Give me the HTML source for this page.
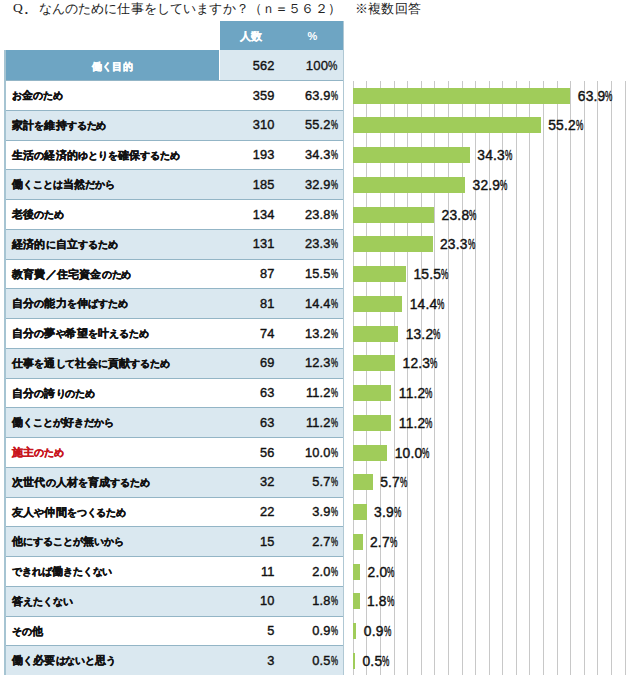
<!DOCTYPE html>
<html lang="ja"><head><meta charset="utf-8">
<style>
html,body{margin:0;padding:0;background:#fff;}
body{width:640px;height:683px;position:relative;overflow:hidden;font-family:"Liberation Sans",sans-serif;}
.a{position:absolute;}
.title{font-family:"Liberation Serif",serif;font-size:13px;color:#222;white-space:nowrap;}
.lab{font-weight:bold;font-size:10px;letter-spacing:-0.1px;-webkit-text-stroke:0.35px currentColor;color:#111;white-space:nowrap;left:12px;}
.num{font-size:12.8px;letter-spacing:0.15px;-webkit-text-stroke:0.4px #111;color:#111;text-align:right;white-space:nowrap;}
.cl{font-size:13.8px;letter-spacing:0.2px;-webkit-text-stroke:0.4px #111;color:#111;white-space:nowrap;}
.g{background:#c8c8c8;width:1px;top:81px;height:594px;}
.bar{background:#a0cc5a;height:16px;}
.pc{display:inline-block;transform:scaleX(0.62);transform-origin:0 50%;margin-right:-4.3px;}
.cl .pc{transform:scaleX(0.6);margin-right:-4.9px;}
.k{font-size:11px;letter-spacing:0.2px;}
</style></head><body>

<div class="a title" style="left:13px;top:0px;font-size:13.5px;-webkit-text-stroke:0.05px #222;">Q</div>
<div class="a title" style="left:24.8px;top:2px;font-weight:bold;">.</div>
<div class="a title" style="left:38.5px;top:0px;letter-spacing:0.15px;">なんのために仕事をしていますか？（ｎ＝５６２）</div>
<div class="a title" style="left:354.5px;top:0px;letter-spacing:0.4px;">※複数回答</div>
<div class="a" style="left:219.5px;top:20.5px;width:124.25px;height:29.75px;background:#6ea5c3;"></div>
<div class="a" style="left:5.8px;top:50.25px;width:213.7px;height:29.75px;background:#6ea5c3;"></div>
<div class="a" style="left:219.5px;top:50.25px;width:124.25px;height:29.75px;background:#dae8f0;"></div>
<div class="a" style="left:219.5px;top:21.5px;width:62px;line-height:29.75px;text-align:center;color:#fff;font-weight:bold;font-size:11px;-webkit-text-stroke:0.2px #fff;">人数</div>
<div class="a" style="left:281.5px;top:22.0px;width:62px;line-height:29.75px;text-align:center;color:#fff;font-weight:bold;font-size:11px;">%</div>
<div class="a" style="left:5.5px;top:51.75px;width:214px;line-height:29.75px;text-align:center;color:#fff;font-weight:bold;font-size:10px;letter-spacing:0.45px;-webkit-text-stroke:0.35px #fff;">働く目的</div>
<div class="a num" style="left:219.5px;top:50.75px;width:55px;line-height:29.75px;">562</div>
<div class="a num" style="left:282.8px;top:50.75px;width:55px;line-height:29.75px;font-size:13.2px;-webkit-text-stroke:0.3px #111;">100<span class="pc" style="transform:scaleX(0.8);margin-right:-2.3px;">%</span></div>
<div class="a" style="left:5.8px;top:80.00px;width:336.8px;height:29.75px;background:#ffffff;border-top:1px solid #93b5c6;box-sizing:border-box;"></div>
<div class="a lab" style="top:81.00px;line-height:29.75px;color:#111;">お<span class="k">金</span>のため</div>
<div class="a num" style="left:219.5px;top:80.50px;width:55px;line-height:29.75px;">359</div>
<div class="a num" style="left:282.8px;top:80.50px;width:55px;line-height:29.75px;">63.9<span class="pc">%</span></div>
<div class="a" style="left:5.8px;top:109.75px;width:336.8px;height:29.75px;background:#dae8f0;border-top:1px solid #93b5c6;box-sizing:border-box;"></div>
<div class="a lab" style="top:110.75px;line-height:29.75px;color:#111;"><span class="k">家計</span>を<span class="k">維持</span>するため</div>
<div class="a num" style="left:219.5px;top:110.25px;width:55px;line-height:29.75px;">310</div>
<div class="a num" style="left:282.8px;top:110.25px;width:55px;line-height:29.75px;">55.2<span class="pc">%</span></div>
<div class="a" style="left:5.8px;top:139.50px;width:336.8px;height:29.75px;background:#ffffff;border-top:1px solid #93b5c6;box-sizing:border-box;"></div>
<div class="a lab" style="top:140.50px;line-height:29.75px;color:#111;"><span class="k">生活</span>の<span class="k">経済的</span>ゆとりを<span class="k">確保</span>するため</div>
<div class="a num" style="left:219.5px;top:140.00px;width:55px;line-height:29.75px;">193</div>
<div class="a num" style="left:282.8px;top:140.00px;width:55px;line-height:29.75px;">34.3<span class="pc">%</span></div>
<div class="a" style="left:5.8px;top:169.25px;width:336.8px;height:29.75px;background:#dae8f0;border-top:1px solid #93b5c6;box-sizing:border-box;"></div>
<div class="a lab" style="top:170.25px;line-height:29.75px;color:#111;"><span class="k">働</span>くことは<span class="k">当然</span>だから</div>
<div class="a num" style="left:219.5px;top:169.75px;width:55px;line-height:29.75px;">185</div>
<div class="a num" style="left:282.8px;top:169.75px;width:55px;line-height:29.75px;">32.9<span class="pc">%</span></div>
<div class="a" style="left:5.8px;top:199.00px;width:336.8px;height:29.75px;background:#ffffff;border-top:1px solid #93b5c6;box-sizing:border-box;"></div>
<div class="a lab" style="top:200.00px;line-height:29.75px;color:#111;"><span class="k">老後</span>のため</div>
<div class="a num" style="left:219.5px;top:199.50px;width:55px;line-height:29.75px;">134</div>
<div class="a num" style="left:282.8px;top:199.50px;width:55px;line-height:29.75px;">23.8<span class="pc">%</span></div>
<div class="a" style="left:5.8px;top:228.75px;width:336.8px;height:29.75px;background:#dae8f0;border-top:1px solid #93b5c6;box-sizing:border-box;"></div>
<div class="a lab" style="top:229.75px;line-height:29.75px;color:#111;"><span class="k">経済的</span>に<span class="k">自立</span>するため</div>
<div class="a num" style="left:219.5px;top:229.25px;width:55px;line-height:29.75px;">131</div>
<div class="a num" style="left:282.8px;top:229.25px;width:55px;line-height:29.75px;">23.3<span class="pc">%</span></div>
<div class="a" style="left:5.8px;top:258.50px;width:336.8px;height:29.75px;background:#ffffff;border-top:1px solid #93b5c6;box-sizing:border-box;"></div>
<div class="a lab" style="top:259.50px;line-height:29.75px;color:#111;"><span class="k">教育費／住宅資金</span>のため</div>
<div class="a num" style="left:219.5px;top:259.00px;width:55px;line-height:29.75px;">87</div>
<div class="a num" style="left:282.8px;top:259.00px;width:55px;line-height:29.75px;">15.5<span class="pc">%</span></div>
<div class="a" style="left:5.8px;top:288.25px;width:336.8px;height:29.75px;background:#dae8f0;border-top:1px solid #93b5c6;box-sizing:border-box;"></div>
<div class="a lab" style="top:289.25px;line-height:29.75px;color:#111;"><span class="k">自分</span>の<span class="k">能力</span>を<span class="k">伸</span>ばすため</div>
<div class="a num" style="left:219.5px;top:288.75px;width:55px;line-height:29.75px;">81</div>
<div class="a num" style="left:282.8px;top:288.75px;width:55px;line-height:29.75px;">14.4<span class="pc">%</span></div>
<div class="a" style="left:5.8px;top:318.00px;width:336.8px;height:29.75px;background:#ffffff;border-top:1px solid #93b5c6;box-sizing:border-box;"></div>
<div class="a lab" style="top:319.00px;line-height:29.75px;color:#111;"><span class="k">自分</span>の<span class="k">夢</span>や<span class="k">希望</span>を<span class="k">叶</span>えるため</div>
<div class="a num" style="left:219.5px;top:318.50px;width:55px;line-height:29.75px;">74</div>
<div class="a num" style="left:282.8px;top:318.50px;width:55px;line-height:29.75px;">13.2<span class="pc">%</span></div>
<div class="a" style="left:5.8px;top:347.75px;width:336.8px;height:29.75px;background:#dae8f0;border-top:1px solid #93b5c6;box-sizing:border-box;"></div>
<div class="a lab" style="top:348.75px;line-height:29.75px;color:#111;"><span class="k">仕事</span>を<span class="k">通</span>して<span class="k">社会</span>に<span class="k">貢献</span>するため</div>
<div class="a num" style="left:219.5px;top:348.25px;width:55px;line-height:29.75px;">69</div>
<div class="a num" style="left:282.8px;top:348.25px;width:55px;line-height:29.75px;">12.3<span class="pc">%</span></div>
<div class="a" style="left:5.8px;top:377.50px;width:336.8px;height:29.75px;background:#ffffff;border-top:1px solid #93b5c6;box-sizing:border-box;"></div>
<div class="a lab" style="top:378.50px;line-height:29.75px;color:#111;"><span class="k">自分</span>の<span class="k">誇</span>りのため</div>
<div class="a num" style="left:219.5px;top:378.00px;width:55px;line-height:29.75px;">63</div>
<div class="a num" style="left:282.8px;top:378.00px;width:55px;line-height:29.75px;">11.2<span class="pc">%</span></div>
<div class="a" style="left:5.8px;top:407.25px;width:336.8px;height:29.75px;background:#dae8f0;border-top:1px solid #93b5c6;box-sizing:border-box;"></div>
<div class="a lab" style="top:408.25px;line-height:29.75px;color:#111;"><span class="k">働</span>くことが<span class="k">好</span>きだから</div>
<div class="a num" style="left:219.5px;top:407.75px;width:55px;line-height:29.75px;">63</div>
<div class="a num" style="left:282.8px;top:407.75px;width:55px;line-height:29.75px;">11.2<span class="pc">%</span></div>
<div class="a" style="left:5.8px;top:437.00px;width:336.8px;height:29.75px;background:#ffffff;border-top:1px solid #93b5c6;box-sizing:border-box;"></div>
<div class="a lab" style="top:438.00px;line-height:29.75px;color:#c8161d;"><span class="k">施主</span>のため</div>
<div class="a num" style="left:219.5px;top:437.50px;width:55px;line-height:29.75px;">56</div>
<div class="a num" style="left:282.8px;top:437.50px;width:55px;line-height:29.75px;">10.0<span class="pc">%</span></div>
<div class="a" style="left:5.8px;top:466.75px;width:336.8px;height:29.75px;background:#dae8f0;border-top:1px solid #93b5c6;box-sizing:border-box;"></div>
<div class="a lab" style="top:467.75px;line-height:29.75px;color:#111;"><span class="k">次世代</span>の<span class="k">人材</span>を<span class="k">育成</span>するため</div>
<div class="a num" style="left:219.5px;top:467.25px;width:55px;line-height:29.75px;">32</div>
<div class="a num" style="left:282.8px;top:467.25px;width:55px;line-height:29.75px;">5.7<span class="pc">%</span></div>
<div class="a" style="left:5.8px;top:496.50px;width:336.8px;height:29.75px;background:#ffffff;border-top:1px solid #93b5c6;box-sizing:border-box;"></div>
<div class="a lab" style="top:497.50px;line-height:29.75px;color:#111;"><span class="k">友人</span>や<span class="k">仲間</span>をつくるため</div>
<div class="a num" style="left:219.5px;top:497.00px;width:55px;line-height:29.75px;">22</div>
<div class="a num" style="left:282.8px;top:497.00px;width:55px;line-height:29.75px;">3.9<span class="pc">%</span></div>
<div class="a" style="left:5.8px;top:526.25px;width:336.8px;height:29.75px;background:#dae8f0;border-top:1px solid #93b5c6;box-sizing:border-box;"></div>
<div class="a lab" style="top:527.25px;line-height:29.75px;color:#111;"><span class="k">他</span>にすることが<span class="k">無</span>いから</div>
<div class="a num" style="left:219.5px;top:526.75px;width:55px;line-height:29.75px;">15</div>
<div class="a num" style="left:282.8px;top:526.75px;width:55px;line-height:29.75px;">2.7<span class="pc">%</span></div>
<div class="a" style="left:5.8px;top:556.00px;width:336.8px;height:29.75px;background:#ffffff;border-top:1px solid #93b5c6;box-sizing:border-box;"></div>
<div class="a lab" style="top:557.00px;line-height:29.75px;color:#111;">できれば<span class="k">働</span>きたくない</div>
<div class="a num" style="left:219.5px;top:556.50px;width:55px;line-height:29.75px;">11</div>
<div class="a num" style="left:282.8px;top:556.50px;width:55px;line-height:29.75px;">2.0<span class="pc">%</span></div>
<div class="a" style="left:5.8px;top:585.75px;width:336.8px;height:29.75px;background:#dae8f0;border-top:1px solid #93b5c6;box-sizing:border-box;"></div>
<div class="a lab" style="top:586.75px;line-height:29.75px;color:#111;"><span class="k">答</span>えたくない</div>
<div class="a num" style="left:219.5px;top:586.25px;width:55px;line-height:29.75px;">10</div>
<div class="a num" style="left:282.8px;top:586.25px;width:55px;line-height:29.75px;">1.8<span class="pc">%</span></div>
<div class="a" style="left:5.8px;top:615.50px;width:336.8px;height:29.75px;background:#ffffff;border-top:1px solid #93b5c6;box-sizing:border-box;"></div>
<div class="a lab" style="top:616.50px;line-height:29.75px;color:#111;">その<span class="k">他</span></div>
<div class="a num" style="left:219.5px;top:616.00px;width:55px;line-height:29.75px;">5</div>
<div class="a num" style="left:282.8px;top:616.00px;width:55px;line-height:29.75px;">0.9<span class="pc">%</span></div>
<div class="a" style="left:5.8px;top:645.25px;width:336.8px;height:29.75px;background:#dae8f0;border-top:1px solid #93b5c6;box-sizing:border-box;"></div>
<div class="a lab" style="top:646.25px;line-height:29.75px;color:#111;"><span class="k">働</span>く<span class="k">必要</span>はないと<span class="k">思</span>う</div>
<div class="a num" style="left:219.5px;top:645.75px;width:55px;line-height:29.75px;">3</div>
<div class="a num" style="left:282.8px;top:645.75px;width:55px;line-height:29.75px;">0.5<span class="pc">%</span></div>
<div class="a" style="left:4.2px;top:50.25px;width:1.6px;height:624.75px;background:#a6c4d2;"></div>
<div class="a" style="left:342.6px;top:20.5px;width:1.4px;height:654.5px;background:#b0c8d4;"></div>
<div class="a g" style="left:352.90px;"></div>
<div class="a g" style="left:366.48px;"></div>
<div class="a g" style="left:380.06px;"></div>
<div class="a g" style="left:393.64px;"></div>
<div class="a g" style="left:407.22px;"></div>
<div class="a g" style="left:420.80px;"></div>
<div class="a g" style="left:434.38px;"></div>
<div class="a g" style="left:447.96px;"></div>
<div class="a g" style="left:461.54px;"></div>
<div class="a g" style="left:475.12px;"></div>
<div class="a g" style="left:488.70px;"></div>
<div class="a g" style="left:502.28px;"></div>
<div class="a g" style="left:515.86px;"></div>
<div class="a g" style="left:529.44px;"></div>
<div class="a g" style="left:543.02px;"></div>
<div class="a g" style="left:556.60px;"></div>
<div class="a g" style="left:570.18px;"></div>
<div class="a g" style="left:583.76px;"></div>
<div class="a g" style="left:597.34px;"></div>
<div class="a g" style="left:610.92px;"></div>
<div class="a g" style="left:624.50px;"></div>
<div class="a bar" style="left:353.40px;top:87.60px;width:217.00px;"></div>
<div class="a cl" style="left:577.80px;top:81.70px;line-height:29.75px;">63.9<span class="pc">%</span></div>
<div class="a bar" style="left:353.40px;top:117.35px;width:187.46px;"></div>
<div class="a cl" style="left:548.26px;top:111.45px;line-height:29.75px;">55.2<span class="pc">%</span></div>
<div class="a bar" style="left:353.40px;top:147.10px;width:116.48px;"></div>
<div class="a cl" style="left:477.28px;top:141.20px;line-height:29.75px;">34.3<span class="pc">%</span></div>
<div class="a bar" style="left:353.40px;top:176.85px;width:111.73px;"></div>
<div class="a cl" style="left:472.53px;top:170.95px;line-height:29.75px;">32.9<span class="pc">%</span></div>
<div class="a bar" style="left:353.40px;top:206.60px;width:80.82px;"></div>
<div class="a cl" style="left:441.62px;top:200.70px;line-height:29.75px;">23.8<span class="pc">%</span></div>
<div class="a bar" style="left:353.40px;top:236.35px;width:79.13px;"></div>
<div class="a cl" style="left:439.93px;top:230.45px;line-height:29.75px;">23.3<span class="pc">%</span></div>
<div class="a bar" style="left:353.40px;top:266.10px;width:52.64px;"></div>
<div class="a cl" style="left:413.44px;top:260.20px;line-height:29.75px;">15.5<span class="pc">%</span></div>
<div class="a bar" style="left:353.40px;top:295.85px;width:48.90px;"></div>
<div class="a cl" style="left:409.70px;top:289.95px;line-height:29.75px;">14.4<span class="pc">%</span></div>
<div class="a bar" style="left:353.40px;top:325.60px;width:44.83px;"></div>
<div class="a cl" style="left:405.63px;top:319.70px;line-height:29.75px;">13.2<span class="pc">%</span></div>
<div class="a bar" style="left:353.40px;top:355.35px;width:41.77px;"></div>
<div class="a cl" style="left:402.57px;top:349.45px;line-height:29.75px;">12.3<span class="pc">%</span></div>
<div class="a bar" style="left:353.40px;top:385.10px;width:38.04px;"></div>
<div class="a cl" style="left:398.84px;top:379.20px;line-height:29.75px;">11.2<span class="pc">%</span></div>
<div class="a bar" style="left:353.40px;top:414.85px;width:38.04px;"></div>
<div class="a cl" style="left:398.84px;top:408.95px;line-height:29.75px;">11.2<span class="pc">%</span></div>
<div class="a bar" style="left:353.40px;top:444.60px;width:33.96px;"></div>
<div class="a cl" style="left:394.76px;top:438.70px;line-height:29.75px;">10.0<span class="pc">%</span></div>
<div class="a bar" style="left:353.40px;top:474.35px;width:19.36px;"></div>
<div class="a cl" style="left:380.16px;top:468.45px;line-height:29.75px;">5.7<span class="pc">%</span></div>
<div class="a bar" style="left:353.40px;top:504.10px;width:13.24px;"></div>
<div class="a cl" style="left:374.04px;top:498.20px;line-height:29.75px;">3.9<span class="pc">%</span></div>
<div class="a bar" style="left:353.40px;top:533.85px;width:9.17px;"></div>
<div class="a cl" style="left:369.97px;top:527.95px;line-height:29.75px;">2.7<span class="pc">%</span></div>
<div class="a bar" style="left:353.40px;top:563.60px;width:6.79px;"></div>
<div class="a cl" style="left:367.59px;top:557.70px;line-height:29.75px;">2.0<span class="pc">%</span></div>
<div class="a bar" style="left:353.40px;top:593.35px;width:6.11px;"></div>
<div class="a cl" style="left:366.91px;top:587.45px;line-height:29.75px;">1.8<span class="pc">%</span></div>
<div class="a bar" style="left:353.40px;top:623.10px;width:3.06px;"></div>
<div class="a cl" style="left:363.86px;top:617.20px;line-height:29.75px;">0.9<span class="pc">%</span></div>
<div class="a bar" style="left:353.40px;top:652.85px;width:1.70px;"></div>
<div class="a cl" style="left:362.50px;top:646.95px;line-height:29.75px;">0.5<span class="pc">%</span></div>
</body></html>
